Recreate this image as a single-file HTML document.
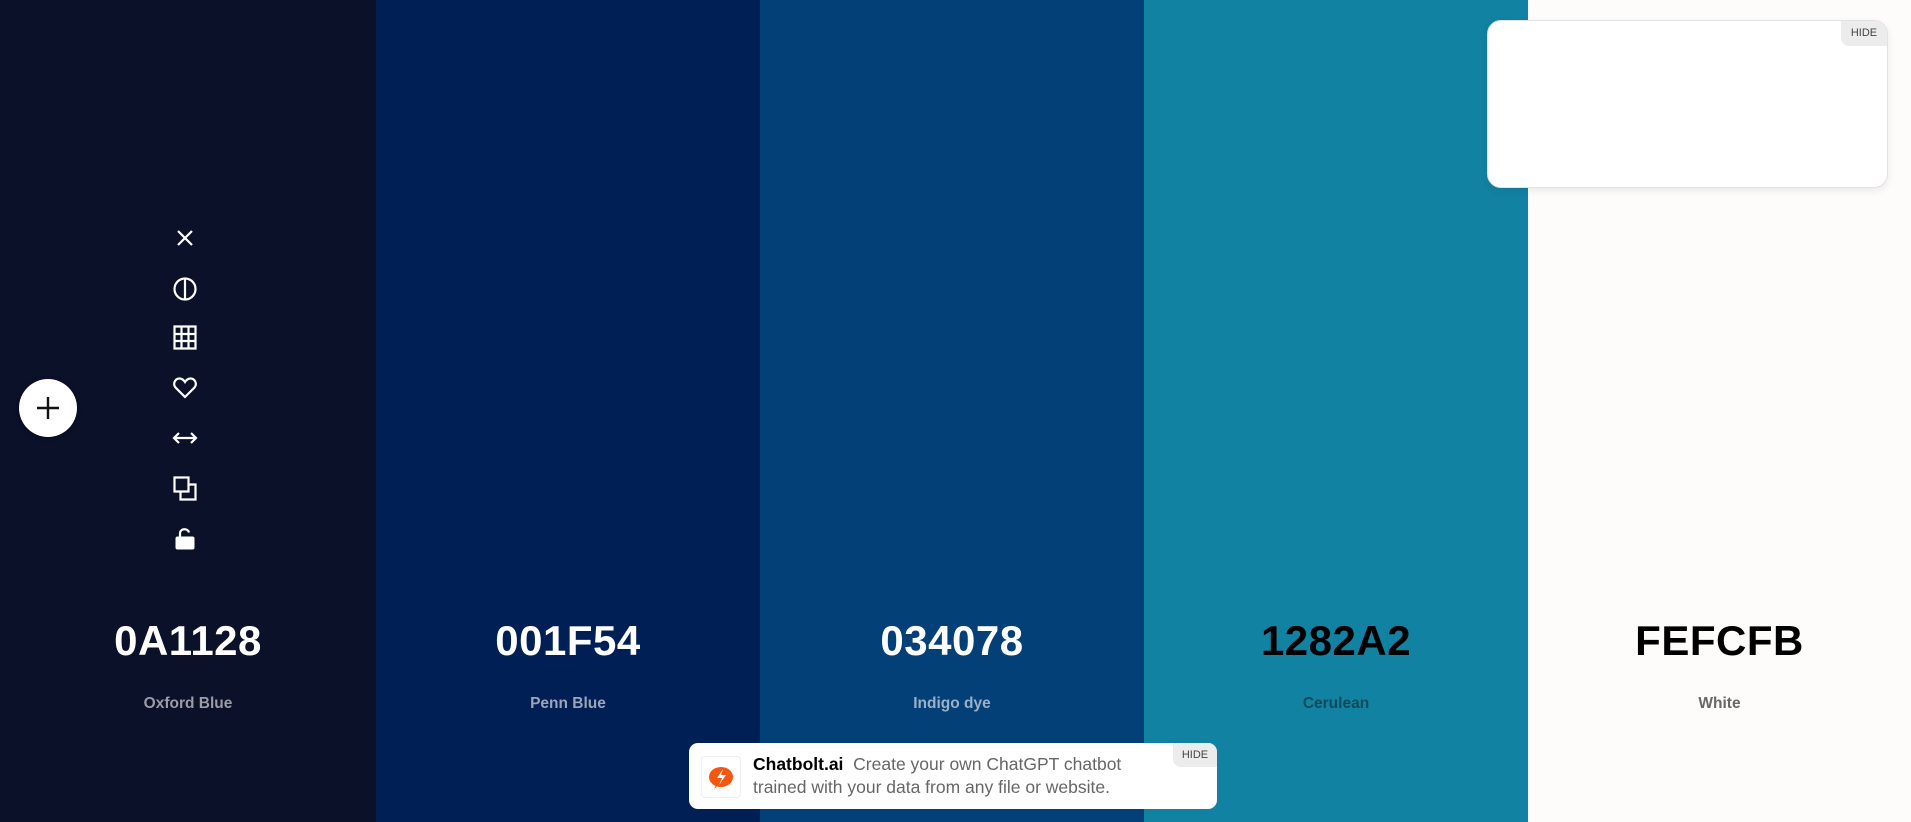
<!DOCTYPE html>
<html><head><meta charset="utf-8"><style>
body{margin:0;width:1911px;height:822px;overflow:hidden;font-family:"Liberation Sans",sans-serif;position:relative}
.col{position:absolute;top:0;height:822px}
.hex{position:absolute;left:0;right:0;top:617px;text-align:center;font-size:42px;font-weight:bold;letter-spacing:0.5px}
.nm{position:absolute;left:0;right:0;top:695px;text-align:center;font-size:15.5px;font-weight:bold}
.ic{position:absolute;left:172px;width:26px;height:26px}
</style></head><body>
<div class="col" style="left:0;width:376px;background:#0A1128">
 <div class="hex" style="color:#fff">0A1128</div>
 <div class="nm" style="color:#9a9ca6">Oxford Blue</div>
</div>
<div class="col" style="left:376px;width:384px;background:#001F54">
 <div class="hex" style="color:#fff">001F54</div>
 <div class="nm" style="color:#9aa5bb">Penn Blue</div>
</div>
<div class="col" style="left:760px;width:384px;background:#034078">
 <div class="hex" style="color:#fff">034078</div>
 <div class="nm" style="color:#9ab1c9">Indigo dye</div>
</div>
<div class="col" style="left:1144px;width:384px;background:#1282A2">
 <div class="hex" style="color:#000">1282A2</div>
 <div class="nm" style="color:#0c4a5c">Cerulean</div>
</div>
<div class="col" style="left:1528px;width:383px;background:#FEFCFB">
 <div class="hex" style="color:#000">FEFCFB</div>
 <div class="nm" style="color:#666">White</div>
</div>

<svg class="ic" style="top:225px" viewBox="0 0 26 26"><path d="M6 6L20 20M20 6L6 20" stroke="#fff" stroke-width="2.2"/></svg>
<svg class="ic" style="top:276px" viewBox="0 0 26 26"><circle cx="13" cy="13" r="10.5" fill="none" stroke="#fff" stroke-width="2.2"/><path d="M13 3V23" stroke="#fff" stroke-width="2.2"/></svg>
<svg class="ic" style="top:325px" viewBox="0 0 26 26"><path d="M2.5 1.5H23.5V23.5H2.5ZM2.5 9H23.5M2.5 16H23.5M9.5 1.5V23.5M16.5 1.5V23.5" fill="none" stroke="#fff" stroke-width="2.2"/></svg>
<svg class="ic" style="top:375px" viewBox="0 0 26 26"><path d="M13 22L3.5 12.5C0.5 9 3 3.5 7.5 3.5C10 3.5 12 5.5 13 7C14 5.5 16 3.5 18.5 3.5C23 3.5 25.5 9 22.5 12.5Z" fill="none" stroke="#fff" stroke-width="2.2"/></svg>
<svg class="ic" style="top:425px" viewBox="0 0 26 26"><path d="M2 13H24M7 8L2 13L7 18M19 8L24 13L19 18" fill="none" stroke="#fff" stroke-width="2.2"/></svg>
<svg class="ic" style="top:476px" viewBox="0 0 26 26"><path d="M2.5 1.5H16.5V15.5H2.5Z M16.5 8.5H23.5V23.5H8.5V15.5" fill="none" stroke="#fff" stroke-width="2.2"/></svg>
<svg class="ic" style="top:526px" viewBox="0 0 26 26"><path d="M8 11V7.5C8 2 16 2 17 6.5" fill="none" stroke="#fff" stroke-width="2.2"/><rect x="3.5" y="10.5" width="19" height="13" rx="2" fill="#fff"/></svg>

<div style="position:absolute;left:19px;top:379px;width:58px;height:58px;border-radius:50%;background:#fff;box-shadow:0 1px 4px rgba(0,0,0,.3)">
 <svg width="58" height="58" viewBox="0 0 58 58"><path d="M29 18V40M18 29H40" stroke="#111" stroke-width="2.4"/></svg>
</div>

<div style="position:absolute;left:1487px;top:20px;width:399px;height:166px;background:#fff;border:1px solid #e2e2e2;border-radius:14px;box-shadow:0 3px 8px rgba(0,0,0,.08);overflow:hidden">
 <div style="position:absolute;right:0;top:0;width:46px;height:25px;background:#ececec;border-bottom-left-radius:8px;font-size:11px;color:#444;text-align:center;line-height:25px">HIDE</div>
</div>

<div style="position:absolute;left:689px;top:743px;width:528px;height:66px;background:#fff;border-radius:9px;overflow:hidden">
 <div style="position:absolute;left:12px;top:13px;width:38px;height:40px;border:1px solid #eee;border-radius:4px">
  <svg width="38" height="40" viewBox="0 0 38 40"><ellipse cx="19" cy="20" rx="12" ry="10" fill="#f4570f"/><path d="M12 32L15 26L19 26Z" fill="#f4570f"/><path d="M21 12L15 21H20L17 28L24 18H19Z" fill="#fff"/></svg>
 </div>
 <div style="position:absolute;left:64px;top:10px;width:420px;font-size:17.5px;line-height:23px;color:#666"><b style="color:#000">Chatbolt.ai</b>&nbsp; Create your own ChatGPT chatbot trained with your data from any file or website.</div>
 <div style="position:absolute;right:0;top:0;width:44px;height:24px;background:#ececec;border-bottom-left-radius:8px;font-size:11px;color:#444;text-align:center;line-height:24px">HIDE</div>
</div>
</body></html>
